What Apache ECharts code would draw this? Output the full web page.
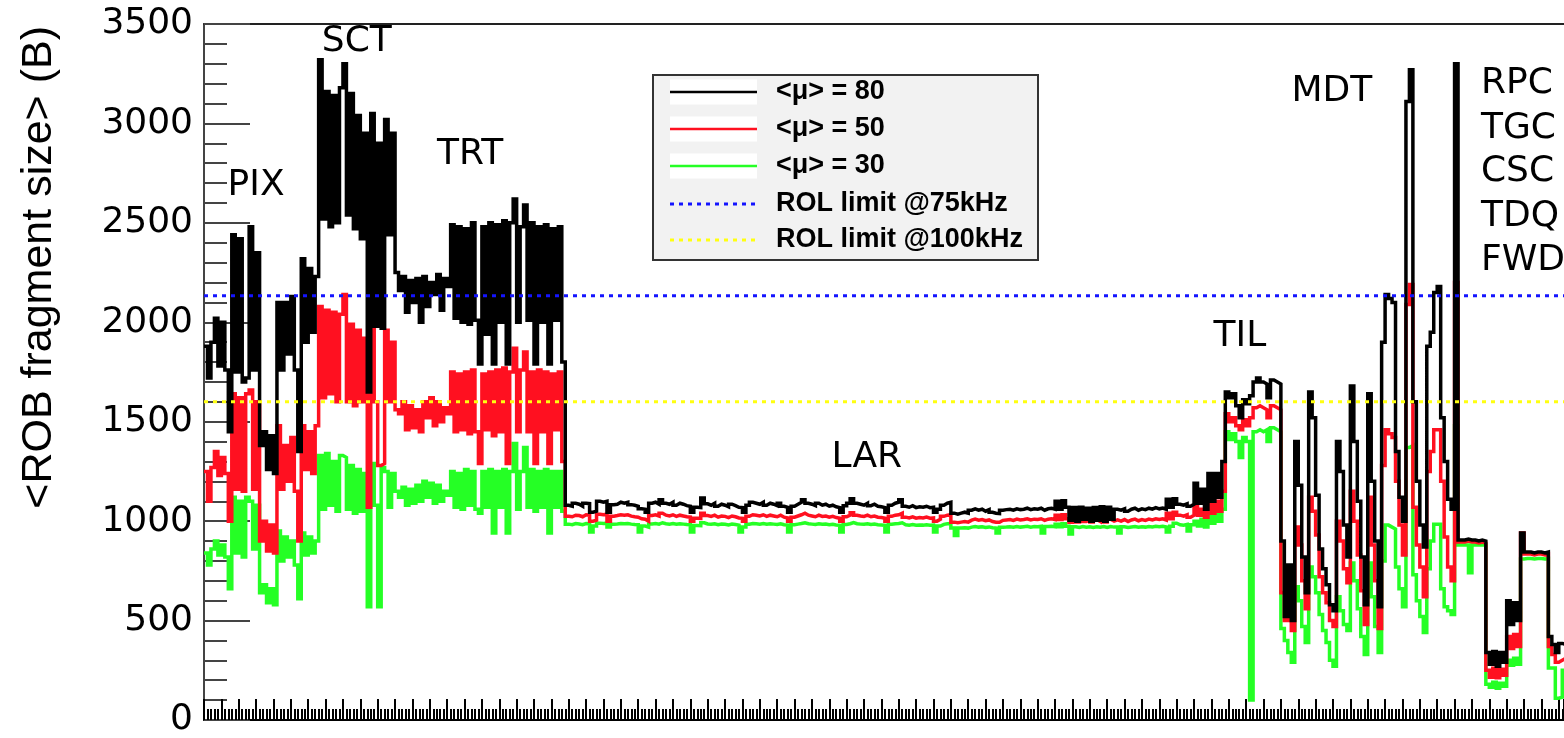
<!DOCTYPE html>
<html><head><meta charset="utf-8">
<script src="https://cdn.jsdelivr.net/npm/echarts@6/dist/echarts.min.js"></script>
<style>html,body{margin:0;padding:0;background:#fff}#chart{width:1564px;height:738px}</style>
</head><body><div id="chart"></div>
<script>
// ROB index bins (one value per bin, left to right)
const mu80 = [
// PIX
1880,1720,1900,2020,1780,2000,1760,1450,2440,1750,2420,1700,1720,2480,1760,2350,1380,1450,1260,1430,1240,2100,1760,2100,1840,2130,1760,1350,2320,1900,2270,1950,2230,
// SCT
3320,2520,3160,2480,3140,2500,3180,3300,2540,3150,2470,3040,2420,2950,1650,3050,1980,2900,1970,3020,2440,2950,
2250,2160,2230,2050,2210,2100,2220,2000,2230,2080,2200,2140,2240,2060,2220,2180,
// TRT
2490,2020,2480,2000,2470,1990,2500,2010,1790,2480,1940,2500,1790,2490,2000,2510,1790,2500,2620,2000,2480,2590,2010,2500,1790,2480,2000,2490,1790,2470,2010,2480,1800,
// LAR
1080,1075,1090,1085,1075,1090,1088,1045,1050,1100,
1095,1100,1045,1083,1085,1095,1090,1095,1083,1080,
1075,1062,1060,1045,1090,1095,1085,1107,1090,1085,
1095,1080,1090,1085,1078,1075,1045,1070,1068,1117,
1087,1080,1090,1075,1085,1080,1072,1085,1078,1070,
1068,1045,1080,1095,1090,1085,1095,1080,1090,1085,
1078,1090,1075,1070,1045,1075,1085,1095,1107,1090,
1085,1078,1090,1080,1085,1075,1080,1072,1068,1045,
1078,1090,1112,1090,1085,1080,1090,1078,1085,1075,
1072,1068,1045,1080,1090,1095,1107,1075,1070,1078,
1068,1072,1070,1075,1068,1070,1045,1060,1080,1090,
1095,1040,1035,1040,1045,1040,1055,1062,1055,1060,
1050,1058,1045,1040,1038,1055,1058,1060,1055,1062,
1058,1060,1065,1058,1062,1060,1065,1055,1062,1065,
1060,1100,1060,1103,1070,1005,1068,1000,1070,1010,
1065,1000,1068,1005,1072,1000,1070,1010,1060,1055,
1062,1050,1060,1065,1055,1062,1058,1065,1060,1068,
1062,1066,1060,1110,1070,1112,1085,1080,1087,1075,
1085,
1190,1090,1160,1060,1240,1100,1240,1120,1300,
// TIL
1650,1620,1640,1580,1520,1610,1590,1630,1700,1720,1700,1690,1620,1710,1700,1690,
// MDT
900,520,780,500,1400,1180,820,640,1650,1520,1130,860,760,680,580,550,1400,1250,980,820,1680,1400,1100,820,580,1640,1200,900,570,1900,2140,2120,2100,1350,1120,1000,3110,3270,1600,1200,980,870,1880,1950,2150,2180,1520,1300,1110,1060,3300,
// RPC / TGC / CSC / TDQ / FWD
905,905,910,905,905,900,905,900,
340,280,345,270,340,290,
600,480,590,500,
940,845,845,840,845,845,840,845,
420,380,340,385,380
];

const mu50 = [
1250,1100,1270,1350,1230,1320,1240,1000,1640,1160,1620,1150,1640,1660,1160,1600,900,1000,850,980,840,1480,1160,1380,1200,1420,1150,900,1480,1260,1450,1240,1480,
2080,1620,2060,1640,2050,1600,2040,2140,1600,1990,1580,1960,1600,1920,1070,1990,1600,1280,1290,1960,1600,1900,
1560,1540,1600,1460,1580,1470,1560,1450,1600,1520,1620,1480,1600,1500,1570,1540,
1750,1450,1740,1460,1750,1440,1760,1450,1290,1740,1460,1750,1430,1760,1450,1770,1290,1750,1870,1450,1760,1850,1450,1750,1290,1760,1450,1750,1290,1740,1460,1750,1300,
1025,1022,1030,1028,1022,1032,1030,1000,1005,1035,
1032,1035,1000,1025,1028,1032,1030,1032,1025,1022,
1020,1012,1010,1000,1028,1032,1026,1040,1030,1026,
1032,1024,1030,1026,1022,1020,1000,1015,1014,1040,
1028,1024,1030,1020,1026,1024,1018,1026,1022,1016,
1014,1000,1024,1032,1030,1026,1032,1024,1030,1026,
1022,1030,1020,1016,1000,1020,1026,1032,1040,1030,
1026,1022,1030,1024,1026,1020,1024,1018,1015,1000,
1022,1030,1042,1030,1026,1024,1030,1022,1026,1020,
1018,1015,1000,1024,1030,1032,1040,1020,1016,1022,
1015,1018,1016,1020,1015,1016,1000,1010,1024,1030,
1032,995,992,995,998,995,1005,1010,1005,1008,
1002,1006,998,995,994,1004,1006,1008,1004,1010,
1006,1008,1012,1006,1010,1008,1012,1004,1010,1012,
1008,1030,1008,1032,1012,995,1008,996,1010,998,
1008,996,1008,998,1010,996,1010,1000,1006,1000,
1008,998,1006,1010,1002,1008,1004,1010,1006,1012,
1008,1012,1006,1040,1012,1045,1030,1025,1032,1020,
1030,
1080,1030,1060,1020,1100,1040,1100,1050,1150,
1540,1500,1520,1480,1460,1510,1480,1520,1570,1580,1570,1560,1520,1580,1570,1560,
640,500,560,450,970,880,700,560,1120,1050,930,720,640,590,500,470,1000,900,760,690,1150,1000,830,650,480,1120,880,700,460,1280,1460,1440,1420,1200,980,830,2090,2190,1070,880,770,620,1250,1350,1460,1460,1200,920,770,700,2200,
895,895,900,895,895,890,895,890,
250,215,260,212,255,225,
420,360,430,370,
940,835,835,830,835,835,830,835,
370,330,290,300,310
];

const mu30 = [
840,780,860,900,830,880,820,660,1120,840,1100,820,1120,1100,860,1080,640,680,590,660,580,950,800,920,820,900,780,610,940,830,920,840,900,
1330,1060,1340,1080,1300,1050,1330,1320,1060,1280,1040,1260,1050,1240,570,1290,1080,570,1270,1250,1070,1240,
1150,1120,1170,1080,1160,1090,1180,1100,1200,1120,1190,1090,1180,1100,1150,1130,
1250,1070,1240,1060,1260,1080,1250,1060,1040,1250,1070,1260,940,1250,1070,1260,940,1250,1390,1060,1250,1370,1070,1260,1050,1250,1070,1260,940,1250,1070,1250,1050,
985,982,988,986,982,988,986,945,975,990,
988,990,970,985,986,988,987,988,985,983,
982,945,975,970,986,988,985,992,987,985,
988,984,987,985,983,982,945,978,977,992,
986,984,987,982,985,984,981,985,983,980,
945,970,984,988,987,985,988,984,987,985,
983,987,982,980,945,982,985,988,992,987,
985,983,987,984,985,982,984,981,979,945,
983,987,993,987,985,984,987,983,985,982,
981,979,945,984,987,988,992,982,980,983,
979,981,980,982,979,980,945,975,984,987,
988,965,928,965,967,965,970,973,970,972,
968,971,967,965,940,969,970,972,969,973,
970,972,974,970,973,972,974,940,973,974,
972,985,972,987,974,935,972,968,973,969,
972,968,972,969,973,968,973,970,971,940,
972,968,971,973,969,972,970,973,971,974,
972,974,971,945,974,990,982,980,984,950,
982,
1000,975,1010,970,1050,990,1050,1000,1060,
1450,1410,1440,1400,1320,1420,1400,100,1450,1460,1450,1460,1400,1470,1460,1450,
460,400,340,290,670,600,470,390,770,720,640,530,450,390,300,270,620,550,480,450,790,700,560,420,330,790,620,470,340,800,980,970,960,770,660,570,1370,1380,730,600,520,440,760,900,985,985,660,570,550,530,1480,
880,880,880,740,880,880,880,880,
180,165,190,160,185,170,
300,275,310,280,
810,812,812,810,812,812,810,812,
262,262,110,115,250
];

const ROL_75KHZ = 2133;
const ROL_100KHZ = 1600;

const Y_MIN = 0, Y_MAX = 3500, Y_STEP = 500;
const X_MIN = 0, X_MAX = 391.5, X_STEP = 5;

// detector annotations: [text, bin position, value, alignment]
const detectorLabels = [
  ['PIX', 15.0, 2685, 'center'],
  ['SCT', 44.0, 3410, 'center'],
  ['TRT', 76.6, 2845, 'center'],
  ['LAR', 190.8, 1320, 'center'],
  ['TIL', 298.2, 1930, 'center'],
  ['MDT', 324.7, 3160, 'center'],
  ['RPC', 367.6, 3202, 'left'],
  ['TGC', 367.6, 2975, 'left'],
  ['CSC', 367.6, 2757, 'left'],
  ['TDQ', 367.6, 2530, 'left'],
  ['FWD', 367.6, 2310, 'left']
];

const legendItems = [
  ['<\u03bc> = 80', '#000000', 'solid'],
  ['<\u03bc> = 50', '#ff1020', 'solid'],
  ['<\u03bc> = 30', '#25ff25', 'solid'],
  ['ROL limit @75kHz', '#1414ff', 'dot'],
  ['ROL limit @100kHz', '#ffff10', 'dot']
];

function histo(vals) {
  const pts = vals.map((v, i) => [i, v]);
  pts.push([vals.length, vals[vals.length - 1]]);
  return pts;
}

const chart = echarts.init(document.getElementById('chart'), null, {renderer: 'canvas'});

const histStyle = (color) => ({
  type: 'line', step: 'end', showSymbol: false, symbol: 'none', animation: false,
  lineStyle: {color: color, width: 3.5, join: 'miter', cap: 'butt'}, itemStyle: {color: color}, sampling: null,
  xAxisIndex: 0, yAxisIndex: 0
});

chart.setOption({
  animation: false,
  backgroundColor: '#ffffff',
  grid: {left: 204, top: 24, right: 0, bottom: 14, containLabel: false},
  xAxis: [{
    type: 'value', min: X_MIN, max: X_MAX, interval: X_STEP,
    axisLine: {show: true, onZero: false, lineStyle: {color: '#000', width: 2}},
    axisTick: {show: true, inside: true, length: 21, lineStyle: {color: '#000', width: 2}},
    minorTick: {show: true, splitNumber: 5, length: 11, lineStyle: {color: '#000', width: 2}},
    axisLabel: {show: false}, splitLine: {show: false}
  }, {
    type: 'value', position: 'top', min: X_MIN, max: X_MAX,
    axisLine: {show: true, onZero: false, lineStyle: {color: '#222', width: 2}},
    axisTick: {show: false}, axisLabel: {show: false}, splitLine: {show: false}
  }],
  yAxis: {
    type: 'value', min: Y_MIN, max: Y_MAX, interval: Y_STEP,
    axisLine: {show: true, onZero: false, lineStyle: {color: '#444', width: 2}},
    axisTick: {show: true, inside: true, length: 46, lineStyle: {color: '#444', width: 2}},
    minorTick: {show: true, splitNumber: 5, length: 23, lineStyle: {color: '#444', width: 2}},
    axisLabel: {show: true, margin: 11, color: '#000', fontSize: 36, fontFamily: 'DejaVu Sans',
                formatter: (v) => String(v)},
    splitLine: {show: false}
  },
  series: [
    Object.assign(histStyle('#25ff25'), {name: '<\u03bc> = 30', data: histo(mu30), z: 2}),
    Object.assign(histStyle('#ff1020'), {name: '<\u03bc> = 50', data: histo(mu50), z: 3}),
    Object.assign(histStyle('#000000'), {name: '<\u03bc> = 80', data: histo(mu80), z: 4}),
    {name: 'ROL limit @75kHz', type: 'line', showSymbol: false, symbol: 'none', z: 6,
     data: [[X_MIN, ROL_75KHZ], [X_MAX, ROL_75KHZ]],
     lineStyle: {color: '#1414ff', width: 3, type: [4, 5]}},
    {name: 'ROL limit @100kHz', type: 'line', showSymbol: false, symbol: 'none', z: 6,
     data: [[X_MIN, ROL_100KHZ], [X_MAX, ROL_100KHZ]],
     lineStyle: {color: '#ffff10', width: 3, type: [4, 5]}}
  ]
});

// annotations and legend
const graphics = [];
detectorLabels.forEach(([txt, bx, val, al]) => {
  const p = chart.convertToPixel({gridIndex: 0}, [bx, val]);
  graphics.push({type: 'text', x: p[0], y: p[1], z: 10,
    style: {text: txt, font: '36px "DejaVu Sans"', fill: '#000', align: al, verticalAlign: 'middle',
            textAlign: al, textVerticalAlign: 'middle'}});
});

graphics.push({type: 'text', x: 39, y: 26, rotation: Math.PI / 2, z: 10,
  style: {text: '<ROB fragment size> (B)', font: '43px "Liberation Sans"', fill: '#000',
          align: 'right', verticalAlign: 'middle', textAlign: 'right', textVerticalAlign: 'middle'}});

const LX = 653, LY = 75, LW = 385, LH = 185;
const legendChildren = [{type: 'rect', shape: {x: LX, y: LY, width: LW, height: LH},
  style: {fill: '#f2f2f2', stroke: '#333', lineWidth: 2}}];
const rowY = [92, 129, 166, 204, 240];
legendItems.forEach(([txt, color, kind], i) => {
  const y = rowY[i];
  if (kind === 'solid') {
    legendChildren.push({type: 'rect', shape: {x: 670, y: y - 12.5, width: 87, height: 25}, style: {fill: '#fff'}});
  }
  legendChildren.push({type: 'line', shape: {x1: 670, y1: y, x2: 757, y2: y},
    style: {stroke: color, lineWidth: kind === 'solid' ? 2.4 : 3, lineDash: kind === 'solid' ? null : [4, 5]}});
  legendChildren.push({type: 'text', x: 776, y: y,
    style: {text: txt, font: 'bold 27px "Liberation Sans"', fill: '#000', align: 'left', verticalAlign: 'middle',
            textAlign: 'left', textVerticalAlign: 'middle'}});
});
graphics.push({type: 'group', z: 20, children: legendChildren});

chart.setOption({graphic: graphics});
</script>
</body></html>
